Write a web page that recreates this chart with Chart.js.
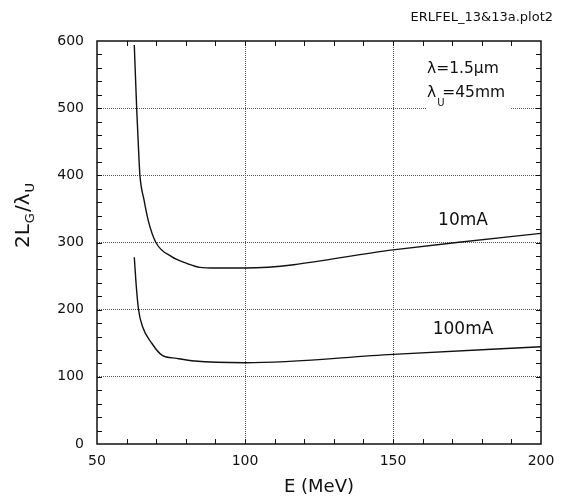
<!DOCTYPE html>
<html>
<head>
<meta charset="utf-8">
<script src="https://cdn.jsdelivr.net/npm/chart.js@4"></script>
<style>
  html, body { margin: 0; padding: 0; background: #fff; }
  #wrap { width: 564px; height: 498px; }
</style>
</head>
<body>
<div id="wrap"><canvas id="gainChart" width="564" height="498"></canvas></div>
<script>
// Beam energy (MeV) and 2L_G/lambda_U
const energy10 = [62.6, 63.4, 64.2, 64.5, 65.9, 67.3, 69.9, 75.2, 80.3, 84.8, 90, 100, 150, 171.5, 200];
const gain10 = [594, 500, 423, 400, 363, 333, 300, 279, 269, 263, 262, 262, 289, 300, 313.6];

const energy100 = [62.6, 63.2, 64.0, 65.4, 68.5, 71.9, 76.9, 83, 100, 150, 200];
const gain100 = [278, 239, 201, 174.5, 150, 132.4, 127.5, 123.5, 121, 133.5, 144.8];

const curveLabels = ["10mA", "100mA"];
const FONT = "'DejaVu Sans', sans-serif";

const toPoints = (xs, ys) => xs.map((x, i) => ({ x, y: ys[i] }));

// Frame, inward ticks, axis title, text notes
const decorations = {
    id: "decorations",
    beforeDatasetsDraw(chart) {
        const { ctx, chartArea: a } = chart;
        // white box behind the wavelength note
        ctx.save();
        ctx.fillStyle = "#fff";
        ctx.fillRect(a.right - 114, a.top + 14, 84, 56);
        ctx.restore();
    },
    afterDatasetsDraw(chart) {
        const { ctx, chartArea: a, scales } = chart;
        const xs = scales.x, ys = scales.y;
        ctx.save();
        ctx.strokeStyle = "#111";
        ctx.lineWidth = 1;
        // minor ticks, pointing inward
        for (let v = 60; v < 200; v += 10) {
            const px = Math.round(xs.getPixelForValue(v)) + 0.5;
            ctx.beginPath();
            ctx.moveTo(px, a.bottom); ctx.lineTo(px, a.bottom - 5);
            ctx.moveTo(px, a.top); ctx.lineTo(px, a.top + 5);
            ctx.stroke();
        }
        for (let v = 20; v < 600; v += 20) {
            const py = Math.round(ys.getPixelForValue(v)) + 0.5;
            ctx.beginPath();
            ctx.moveTo(a.left, py); ctx.lineTo(a.left + 5, py);
            ctx.moveTo(a.right, py); ctx.lineTo(a.right - 5, py);
            ctx.stroke();
        }
        // frame
        ctx.lineWidth = 1.5;
        ctx.strokeRect(a.left, a.top, a.right - a.left, a.bottom - a.top);

        ctx.fillStyle = "#111";
        // chart id at top right
        ctx.font = "13px " + FONT;
        ctx.textAlign = "right";
        ctx.textBaseline = "middle";
        ctx.fillText("ERLFEL_13&13a.plot2", 553, 18);

        // wavelength note
        ctx.textAlign = "left";
        ctx.font = "15.5px " + FONT;
        ctx.fillText("\u03bb=1.5\u03bcm", 427, 69);
        ctx.fillText("\u03bb", 427, 93);
        const lw = ctx.measureText("\u03bb").width;
        ctx.font = "10px " + FONT;
        ctx.fillText("U", 427 + lw + 1, 103);
        ctx.font = "15.5px " + FONT;
        ctx.fillText("=45mm", 427 + lw + 6, 93);

        // curve labels
        ctx.textAlign = "center";
        ctx.font = "17px " + FONT;
        ctx.fillText(curveLabels[0], 463, 221);
        ctx.fillText(curveLabels[1], 463, 330);

        // y axis title, rotated, with subscripts
        ctx.translate(24, 215);
        ctx.rotate(-Math.PI / 2);
        ctx.textAlign = "left";
        const parts = [["2L", 20, 0], ["G", 13, 7], ["/\u03bb", 20, 0], ["U", 13, 7]];
        let total = 0;
        parts.forEach(([t, s]) => { ctx.font = s + "px " + FONT; total += ctx.measureText(t).width + 1; });
        let cx = -total / 2;
        parts.forEach(([t, s, dy]) => {
            ctx.font = s + "px " + FONT;
            ctx.fillText(t, cx, dy);
            cx += ctx.measureText(t).width + 1;
        });
        ctx.restore();
    }
};

const gridColor = (c) => (c.tick && (c.tick.value === c.scale.min || c.tick.value === c.scale.max)) ? "rgba(0,0,0,0)" : "#555";

new Chart(document.getElementById("gainChart"), {
    type: "line",
    data: {
        datasets: [
            {
                label: curveLabels[0],
                data: toPoints(energy10, gain10),
                borderColor: "#111",
                borderWidth: 1.4,
                pointRadius: 0,
                cubicInterpolationMode: "monotone"
            },
            {
                label: curveLabels[1],
                data: toPoints(energy100, gain100),
                borderColor: "#111",
                borderWidth: 1.4,
                pointRadius: 0,
                cubicInterpolationMode: "monotone"
            }
        ]
    },
    options: {
        responsive: false,
        animation: false,
        layout: { padding: { top: 41, right: 23, left: 0, bottom: 0 } },
        plugins: { legend: { display: false }, tooltip: { enabled: false } },
        scales: {
            x: {
                type: "linear",
                min: 50,
                max: 200,
                afterFit: (s) => { s.height = 54; },
                ticks: { stepSize: 50, padding: 9, color: "#111", font: { family: FONT, size: 14 } },
                grid: { color: gridColor, lineWidth: 1, drawTicks: false },
                border: { display: false, dash: [1, 1] },
                title: {
                    display: true,
                    text: "E (MeV)",
                    color: "#111",
                    font: { family: FONT, size: 18 },
                    padding: { top: 0, bottom: 0 }
                }
            },
            y: {
                min: 0,
                max: 600,
                afterFit: (s) => { s.width = 97; },
                ticks: { stepSize: 100, padding: 13, color: "#111", font: { family: FONT, size: 14 } },
                grid: { color: gridColor, lineWidth: 1, drawTicks: false },
                border: { display: false, dash: [1, 1] }
            }
        }
    },
    plugins: [decorations]
});
</script>
</body>
</html>
